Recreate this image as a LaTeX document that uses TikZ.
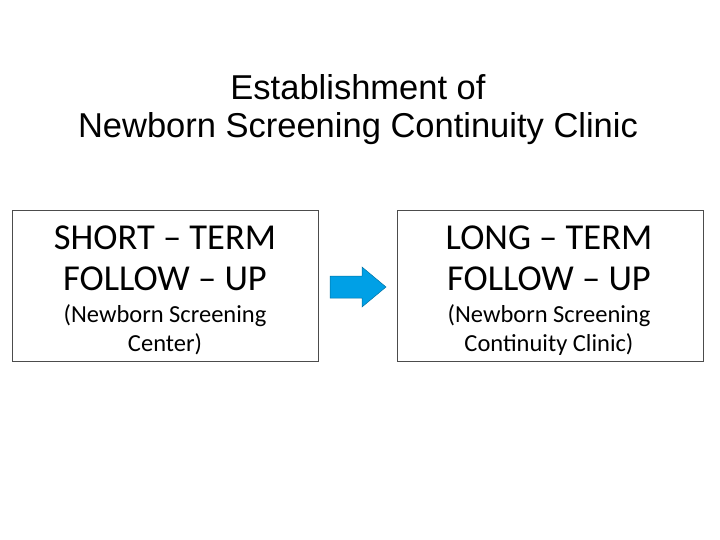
\documentclass[tikz,border=0pt]{standalone}
\usepackage{fontspec}
\setmainfont{Carlito}
\newfontfamily\arialf{Liberation Sans}
\definecolor{arrowblue}{RGB}{0,160,230}
\begin{document}
\begin{tikzpicture}[x=1pt,y=-1pt,
  boxst/.style={draw=black!70,line width=0.8pt,minimum width=306pt,minimum height=151pt,anchor=north west,inner sep=0pt},
  bigt/.style={font=\fontsize{36.5}{41}\selectfont,align=center},
  smallt/.style={font=\fontsize{24.5}{29}\selectfont,align=center}]
\useasboundingbox (0,0) rectangle (720,540);
\node[font=\arialf\fontsize{34.5}{38}\selectfont,align=center] (title) at (358,110) {Establishment of\\Newborn Screening Continuity Clinic};
\node[boxst] (left) at (12,210) {};
\node[boxst] (right) at (397,210) {};
\node[bigt] (lt) at (165,258) {SHORT -- TERM\\FOLLOW -- UP};
\node[smallt] (ls) at (165,330) {(Newborn Screening\\Center)};
\node[bigt] (rt) at (549,258) {LONG -- TERM\\FOLLOW -- UP};
\node[smallt] (rs) at (549,330) {(Newborn Screening\\Continuity Clinic)};
\fill[arrowblue,draw=arrowblue!70!black,line width=0.5pt] (330,276) -- (362,276) -- (362,267) -- (386,287) -- (362,307) -- (362,298) -- (330,298) -- cycle;
\end{tikzpicture}
\end{document}
